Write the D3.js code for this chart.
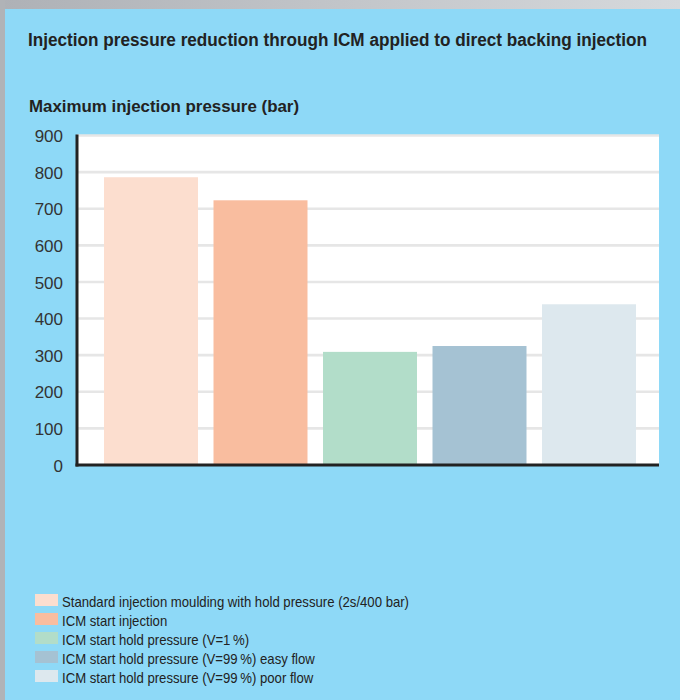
<!DOCTYPE html>
<html>
<head>
<meta charset="utf-8">
<script src="https://cdn.jsdelivr.net/npm/d3@7"></script>
<style>
  html, body { margin: 0; padding: 0; background: #8ed9f7; }
  svg { display: block; }
</style>
</head>
<body>
<svg id="chart" width="680" height="700"></svg>
<script>
// Chart data
const categories = [
  "Standard injection moulding with hold pressure (2s/400 bar)",
  "ICM start injection",
  "ICM start hold pressure (V=1\u202F%)",
  "ICM start hold pressure (V=99\u202F%) easy flow",
  "ICM start hold pressure (V=99\u202F%) poor flow"
];
const pressures = [786, 723, 309, 325, 439];
const barColors = ["#fcdecf", "#f9bd9f", "#b2ddc9", "#a5c2d3", "#dde8ee"];
const yTicks = [0, 100, 200, 300, 400, 500, 600, 700, 800, 900];
const titleText = "Injection pressure reduction through ICM applied to direct backing injection";
const axisTitle = "Maximum injection pressure (bar)";

const svg = d3.select("#chart");
const sans = "'Liberation Sans', Arial, sans-serif";

// Frame: grey strip along the top and left edge
const grad = svg.append("defs").append("linearGradient").attr("id", "frameGrad");
grad.append("stop").attr("offset", "0%").attr("stop-color", "#aeb1b6");
grad.append("stop").attr("offset", "100%").attr("stop-color", "#d6d9dc");
svg.append("rect").attr("x", 0).attr("y", 0).attr("width", 680).attr("height", 9).attr("fill", "url(#frameGrad)");
svg.append("rect").attr("x", 0).attr("y", 0).attr("width", 5).attr("height", 700).attr("fill", "#b0b3b7");

// Condense a text element horizontally to a given width
function squeeze(sel, width) {
  sel.attr("textLength", width).attr("lengthAdjust", "spacingAndGlyphs");
  return sel;
}

// Titles
squeeze(svg.append("text")
  .attr("x", 28).attr("y", 46)
  .attr("font-family", sans).attr("font-weight", "bold")
  .attr("font-size", 17.5).attr("fill", "#222")
  .text(titleText), 619);

squeeze(svg.append("text")
  .attr("x", 29).attr("y", 112)
  .attr("font-family", sans).attr("font-weight", "bold")
  .attr("font-size", 16).attr("fill", "#222")
  .text(axisTitle), 270);

// Plot area
const plot = { left: 77, right: 659, top: 135.5, bottom: 465 };

const y = d3.scaleLinear().domain([0, 900]).range([plot.bottom, plot.top]);
const x = d3.scaleBand()
  .domain(categories)
  .range([104, 636])
  .paddingInner(0.1416)
  .paddingOuter(0);

svg.append("rect")
  .attr("x", plot.left).attr("y", plot.top)
  .attr("width", plot.right - plot.left).attr("height", plot.bottom - plot.top)
  .attr("fill", "#ffffff");

// Horizontal gridlines
svg.append("g")
  .selectAll("line")
  .data(yTicks.filter(d => d > 0))
  .join("line")
  .attr("x1", plot.left).attr("x2", plot.right)
  .attr("y1", d => y(d)).attr("y2", d => y(d))
  .attr("stroke", "#e6e6e6").attr("stroke-width", 2.6);

// Bars
svg.append("g")
  .selectAll("rect")
  .data(pressures)
  .join("rect")
  .attr("x", (d, i) => x(categories[i]))
  .attr("width", x.bandwidth())
  .attr("y", d => y(d))
  .attr("height", d => y(0) - y(d))
  .attr("fill", (d, i) => barColors[i]);

// Y axis labels
const yAxis = d3.axisLeft(y).tickValues(yTicks).tickSize(0).tickPadding(0).tickFormat(d3.format("d"));
const yg = svg.append("g").attr("transform", `translate(63,0)`).call(yAxis);
yg.select(".domain").remove();
yg.selectAll("text")
  .attr("font-family", sans)
  .attr("font-size", 17)
  .attr("fill", "#333")
  .attr("dy", "0.36em");

// Axis lines
svg.append("line")
  .attr("x1", plot.left).attr("x2", plot.left)
  .attr("y1", plot.top - 1).attr("y2", plot.bottom + 1.5)
  .attr("stroke", "#222").attr("stroke-width", 3);
svg.append("line")
  .attr("x1", plot.left - 1.5).attr("x2", plot.right)
  .attr("y1", plot.bottom).attr("y2", plot.bottom)
  .attr("stroke", "#222").attr("stroke-width", 3);

// Legend
const legend = svg.append("g").attr("transform", "translate(35,594)");
const rows = legend.selectAll("g")
  .data(categories)
  .join("g")
  .attr("transform", (d, i) => `translate(0,${i * 19})`);
rows.append("rect")
  .attr("width", 23).attr("height", 12)
  .attr("fill", (d, i) => barColors[i]);
const labels = rows.append("text")
  .attr("x", 27).attr("y", 12.5)
  .attr("font-family", sans)
  .attr("font-size", 14.5)
  .attr("fill", "#222")
  .text(d => d);
// Condense all legend labels by the same factor, set by the longest one
const w0 = labels.filter((d, i) => i === 0).node().getComputedTextLength();
const k = 347 / w0;
labels.each(function () {
  const w = this.getComputedTextLength();
  d3.select(this).attr("textLength", (w * k).toFixed(1)).attr("lengthAdjust", "spacingAndGlyphs");
});
</script>
</body>
</html>
